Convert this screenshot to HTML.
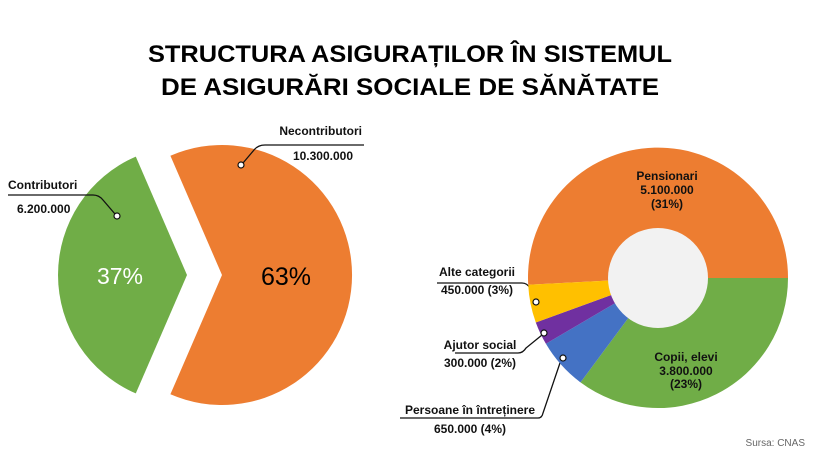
<!DOCTYPE html>
<html><head><meta charset="utf-8"><style>
body{margin:0;background:#fff}
svg text{font-family:"Liberation Sans",sans-serif}
</style></head><body>
<svg width="820" height="461" viewBox="0 0 820 461" xmlns="http://www.w3.org/2000/svg">
<rect width="820" height="461" fill="#fff"/>
<text x="410" y="62" text-anchor="middle" font-size="24" font-weight="bold" textLength="524" lengthAdjust="spacingAndGlyphs">STRUCTURA ASIGURAȚILOR ÎN SISTEMUL</text>
<text x="410" y="95" text-anchor="middle" font-size="24" font-weight="bold" textLength="498" lengthAdjust="spacingAndGlyphs">DE ASIGURĂRI SOCIALE  DE SĂNĂTATE</text>

<path d="M222,275 L170.4,155.7 A130,130 0 1 1 170.4,394.3 Z" fill="#ed7d31"/>
<path d="M187,275 L135.8,393.4 A129,129 0 0 1 135.8,156.6 Z" fill="#70ad47"/>
<text x="120" y="284" text-anchor="middle" font-size="23" fill="#fff">37%</text>
<text x="286" y="285" text-anchor="middle" font-size="25" fill="#000">63%</text>

<g font-size="12" font-weight="bold" fill="#111">
<text x="362" y="135" text-anchor="end">Necontributori</text>
<text x="353" y="160" text-anchor="end">10.300.000</text>
<text x="8" y="189">Contributori</text>
<text x="17" y="213">6.200.000</text>
</g>
<g fill="none" stroke="#111" stroke-width="1.3">
<path d="M364,145 L265,145 Q258,145 254,150 L243,163"/>
<path d="M8,195 L93,195 Q99,195 103,200 L115,214"/>
<path d="M437,283 L522,283 Q527,283 530,288 L535,299"/>
<path d="M455,353 L518,353 Q523,353 526,348 L542,335"/>
<path d="M400,418 L538,418 Q542,418 543,413 L561,360"/>
</g>
<g fill="#fff" stroke="#111" stroke-width="1.2">
<circle cx="241" cy="165" r="3"/>
<circle cx="117" cy="216" r="3"/>
</g>

<path d="M658,278 L528.2,284.8 A130,130 0 1 1 788,278 Z" fill="#ed7d31"/>
<path d="M658,278 L788,278 A130,130 0 0 1 580.5,382.4 Z" fill="#70ad47"/>
<path d="M658,278 L580.5,382.4 A130,130 0 0 1 545.9,343.8 Z" fill="#4472c4"/>
<path d="M658,278 L545.9,343.8 A130,130 0 0 1 535.8,322.5 Z" fill="#7030a0"/>
<path d="M658,278 L535.8,322.5 A130,130 0 0 1 528.2,284.8 Z" fill="#ffc000"/>
<circle cx="658" cy="278" r="50" fill="#f2f2f2"/>
<g fill="#fff" stroke="#111" stroke-width="1.2">
<circle cx="536" cy="302" r="3"/>
<circle cx="544" cy="333" r="3"/>
<circle cx="563" cy="358" r="3"/>
</g>

<g font-size="12" font-weight="bold" fill="#111" text-anchor="middle">
<text x="667" y="180">Pensionari</text>
<text x="667" y="194">5.100.000</text>
<text x="667" y="208">(31%)</text>
<text x="686" y="361">Copii, elevi</text>
<text x="686" y="375">3.800.000</text>
<text x="686" y="388">(23%)</text>
<text x="477" y="276">Alte categorii</text>
<text x="477" y="294">450.000 (3%)</text>
<text x="480" y="349">Ajutor social</text>
<text x="480" y="367">300.000 (2%)</text>
<text x="470" y="414">Persoane în întreținere</text>
<text x="470" y="433">650.000 (4%)</text>
</g>
<text x="805" y="446" text-anchor="end" font-size="10" fill="#666">Sursa: CNAS</text>
</svg>
</body></html>
